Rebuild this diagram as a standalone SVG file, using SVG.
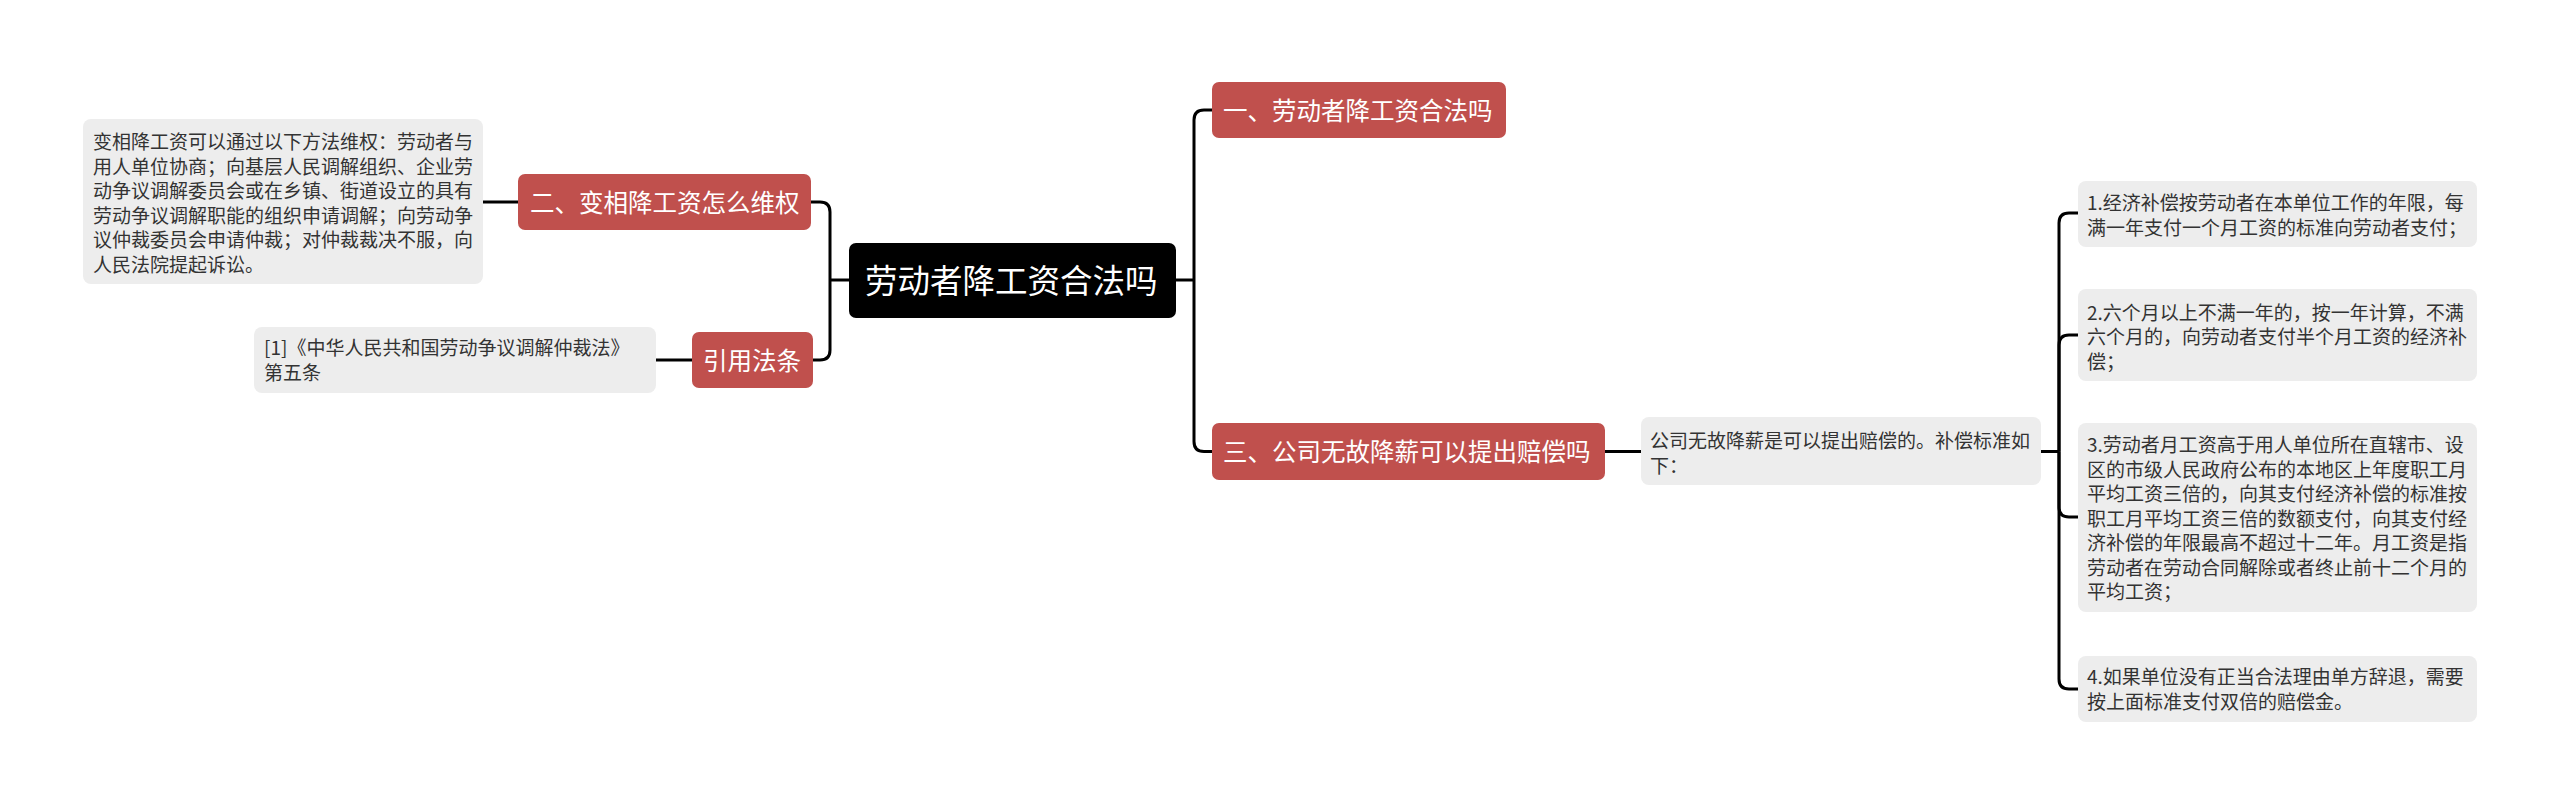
<svg xmlns="http://www.w3.org/2000/svg" width="2560" height="805" viewBox="0 0 2560 805">
<style>
text{font-family:"Noto Sans CJK SC","Noto Sans",sans-serif}
.red{fill:#C0504D}
.grey{fill:#EDEDED}
.nt{fill:#FFFFFF;font-size:24.5px}
.rt{fill:#FFFFFF;font-size:32.5px}
.st{fill:#333333;font-size:19px}
.conn path{fill:none;stroke:#000000;stroke-width:3}
</style>
<rect width="2560" height="805" fill="#FFFFFF"/>
<g id="connectors" class="conn">
<path d="M1176 280 H1194"/>
<path d="M1194 280 V120 Q1194 110 1204 110 H1212"/>
<path d="M1194 280 V441.5 Q1194 451.5 1204 451.5 H1212"/>
<path d="M849 280 H830"/>
<path d="M830 280 V212 Q830 202 820 202 H811"/>
<path d="M830 280 V350 Q830 360 820 360 H813"/>
<path d="M518 202 H483"/>
<path d="M692 360 H656"/>
<path d="M1605 451.5 H1641"/>
<path d="M2041 451.5 H2059"/>
<path d="M2059 451.5 V223 Q2059 213 2069 213 H2078"/>
<path d="M2059 451.5 V345 Q2059 335 2069 335 H2078"/>
<path d="M2059 451.5 V507 Q2059 517 2069 517 H2078"/>
<path d="M2059 451.5 V679 Q2059 689 2069 689 H2078"/>
</g>
<g id="root">
<rect x="849" y="243" width="327" height="75" rx="7" fill="#000000"/>
<text class="rt" x="865" y="292.5">劳动者降工资合法吗</text>
</g>
<g id="branch1">
<rect class="red" x="1212" y="82" width="294" height="56" rx="7"/>
<text class="nt" x="1223" y="119.5">一、劳动者降工资合法吗</text>
</g>
<g id="branch3">
<rect class="red" x="1212" y="423" width="393" height="57" rx="7"/>
<text class="nt" x="1223" y="461">三、公司无故降薪可以提出赔偿吗</text>
</g>
<g id="branch2">
<rect class="red" x="518" y="174" width="293" height="56" rx="7"/>
<text class="nt" x="530" y="211.5">二、变相降工资怎么维权</text>
</g>
<g id="cite">
<rect class="red" x="692" y="332" width="121" height="56" rx="7"/>
<text class="nt" x="703" y="369.5">引用法条</text>
</g>
<g id="branch2-text">
<rect class="grey" x="83" y="119" width="400" height="165" rx="8"/>
<text class="st" x="93" y="149">
<tspan x="93">变相降工资可以通过以下方法维权：劳动者与</tspan>
<tspan x="93" dy="24.5">用人单位协商；向基层人民调解组织、企业劳</tspan>
<tspan x="93" dy="24.5">动争议调解委员会或在乡镇、街道设立的具有</tspan>
<tspan x="93" dy="24.5">劳动争议调解职能的组织申请调解；向劳动争</tspan>
<tspan x="93" dy="24.5">议仲裁委员会申请仲裁；对仲裁裁决不服，向</tspan>
<tspan x="93" dy="24.5">人民法院提起诉讼。</tspan>
</text>
</g>
<g id="cite-text">
<rect class="grey" x="254" y="327" width="402" height="66" rx="8"/>
<text class="st" x="264" y="355">
<tspan x="264">[1]《中华人民共和国劳动争议调解仲裁法》</tspan>
<tspan x="264" dy="24.5">第五条</tspan>
</text>
</g>
<g id="branch3-text">
<rect class="grey" x="1641" y="417" width="400" height="68" rx="8"/>
<text class="st" x="1650" y="448">
<tspan x="1650">公司无故降薪是可以提出赔偿的。补偿标准如</tspan>
<tspan x="1650" dy="24.5">下：</tspan>
</text>
</g>
<g id="item1">
<rect class="grey" x="2078" y="181" width="399" height="66" rx="8"/>
<text class="st" x="2087" y="210">
<tspan x="2087">1.经济补偿按劳动者在本单位工作的年限，每</tspan>
<tspan x="2087" dy="24.5">满一年支付一个月工资的标准向劳动者支付；</tspan>
</text>
</g>
<g id="item2">
<rect class="grey" x="2078" y="289" width="399" height="92" rx="8"/>
<text class="st" x="2087" y="319.5">
<tspan x="2087">2.六个月以上不满一年的，按一年计算，不满</tspan>
<tspan x="2087" dy="24.5">六个月的，向劳动者支付半个月工资的经济补</tspan>
<tspan x="2087" dy="24.5">偿；</tspan>
</text>
</g>
<g id="item3">
<rect class="grey" x="2078" y="423" width="399" height="189" rx="8"/>
<text class="st" x="2087" y="452">
<tspan x="2087">3.劳动者月工资高于用人单位所在直辖市、设</tspan>
<tspan x="2087" dy="24.5">区的市级人民政府公布的本地区上年度职工月</tspan>
<tspan x="2087" dy="24.5">平均工资三倍的，向其支付经济补偿的标准按</tspan>
<tspan x="2087" dy="24.5">职工月平均工资三倍的数额支付，向其支付经</tspan>
<tspan x="2087" dy="24.5">济补偿的年限最高不超过十二年。月工资是指</tspan>
<tspan x="2087" dy="24.5">劳动者在劳动合同解除或者终止前十二个月的</tspan>
<tspan x="2087" dy="24.5">平均工资；</tspan>
</text>
</g>
<g id="item4">
<rect class="grey" x="2078" y="656" width="399" height="66" rx="8"/>
<text class="st" x="2087" y="684">
<tspan x="2087">4.如果单位没有正当合法理由单方辞退，需要</tspan>
<tspan x="2087" dy="24.5">按上面标准支付双倍的赔偿金。</tspan>
</text>
</g>
</svg>
